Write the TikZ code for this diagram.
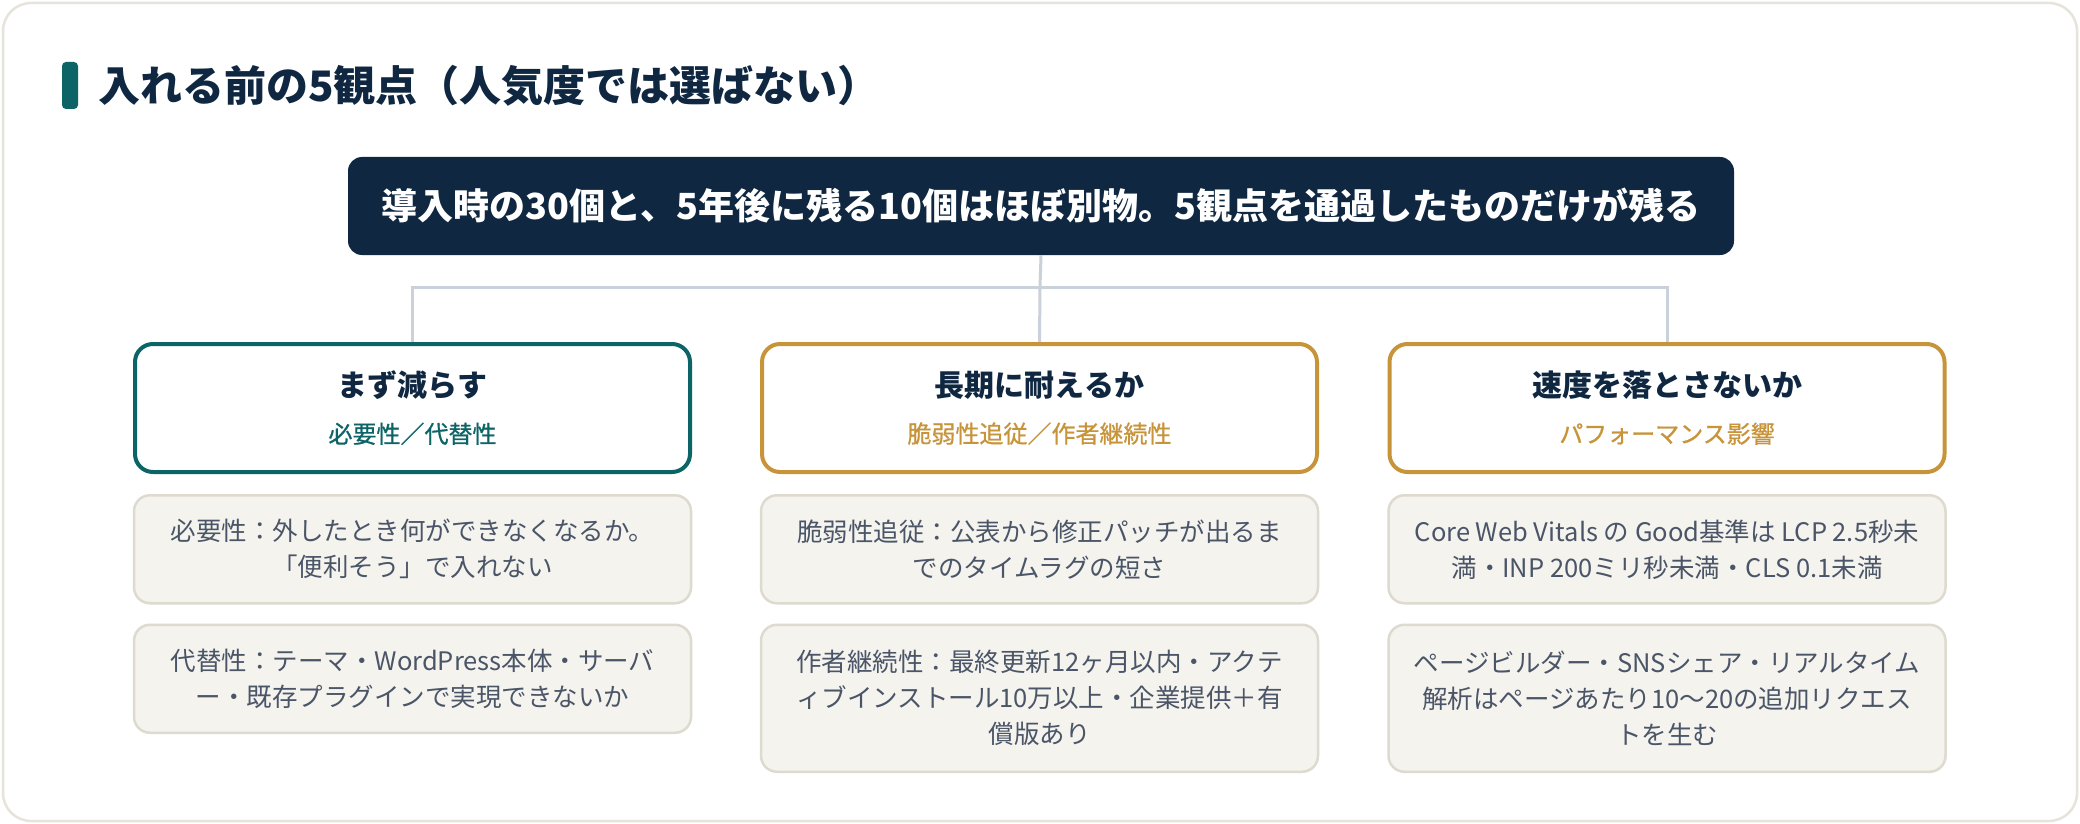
\documentclass[tikz,border=0pt]{standalone}
\usepackage{fontspec}
\setmainfont{Noto Sans CJK JP}
\usetikzlibrary{positioning}
\definecolor{cardline}{HTML}{E5E3DA}
\definecolor{inknavy}{HTML}{0F2740}
\definecolor{pineteal}{HTML}{0D6466}
\definecolor{ochre}{HTML}{C8943A}
\definecolor{paper}{HTML}{F5F3EE}
\definecolor{paperline}{HTML}{DEDACF}
\definecolor{wiregray}{HTML}{CBD1DA}
\definecolor{bodygray}{HTML}{4A5567}
\newcommand\subfont{\fontsize{24}{28}\selectfont\mdseries\addfontfeatures{FakeBold=0.8}}

\begin{document}
\begin{tikzpicture}[
    x=1pt, y=-1pt,
    card/.style={
      rounded corners=28pt, fill=white, draw=cardline, line width=2.5pt,
    },
    leadbox/.style={
      rectangle, rounded corners=14pt,
      minimum width=1386pt, minimum height=98pt,
      fill=inknavy, text=white, inner sep=0pt,
      font=\fontsize{36}{42}\selectfont\bfseries,
    },
    headbox/.style={
      rectangle, rounded corners=18pt,
      minimum width=555pt, minimum height=128pt,
      fill=white, line width=4pt, align=center, inner sep=0pt,
      text=inknavy, font=\fontsize{30}{44}\selectfont\bfseries,
    },
    headA/.style={headbox, draw=pineteal},
    headB/.style={headbox, draw=ochre},
    detail/.style={
      rectangle, rounded corners=16pt,
      minimum width=557pt, minimum height=108pt,
      fill=paper, draw=paperline, line width=2.5pt,
      align=center, inner sep=0pt,
      text=bodygray, font=\fontsize{25.5}{36}\selectfont,
    },
    wire/.style={draw=wiregray, line width=3pt},
  ]
  \useasboundingbox (0,0) rectangle (2080,824);

  % --- card + heading ---
  \draw[card] (3,3) rectangle (2077,821);
  \fill[pineteal, rounded corners=4pt] (62,62) rectangle (78,109);
  \node[anchor=west, inner sep=0pt, text=inknavy,
        font=\fontsize{42}{50}\selectfont\bfseries] (title) at (98,85.5)
    {入れる前の5観点（人気度では選ばない）};

  % ================================================================
  %  LEAD STATEMENT
  % ================================================================
  \node[leadbox] (lead) at (1041,206)
    {導入時の30個と、5年後に残る10個はほぼ別物。5観点を通過したものだけが残る};

  % ================================================================
  %  THREE VIEWPOINTS
  % ================================================================
  \node[headA] (h1) at (412.5,408)
    {まず減らす\\[2pt]{\subfont\color{pineteal}必要性／代替性}};
  \node[headB] (h2) at (1039.5,408)
    {長期に耐えるか\\[2pt]{\subfont\color{ochre}脆弱性追従／作者継続性}};
  \node[headB] (h3) at (1667,408)
    {速度を落とさないか\\[2pt]{\subfont\color{ochre}パフォーマンス影響}};

  % -- tree wires --
  \coordinate (split) at (1040,287);
  \draw[wire] (lead.south) -- (split);
  \draw[wire] (h1.north) |- (split) -| (h3.north);
  \draw[wire] (split) -- (h2.north);

  % ================================================================
  %  DETAILS
  % ================================================================
  \node[detail, below=20pt of h1] (d1a)
    {必要性：外したとき何ができなくなるか。\\「便利そう」で入れない};
  \node[detail, below=19pt of d1a] (d1b)
    {代替性：テーマ・WordPress本体・サーバ\\ー・既存プラグインで実現できないか};

  \node[detail, below=20pt of h2] (d2a)
    {脆弱性追従：公表から修正パッチが出るま\\でのタイムラグの短さ};
  \node[detail, below=19pt of d2a, minimum height=147pt] (d2b)
    {作者継続性：最終更新12ヶ月以内・アクテ\\ィブインストール10万以上・企業提供＋有\\償版あり};

  \node[detail, below=20pt of h3] (d3a)
    {Core Web Vitals の Good基準は LCP 2.5秒未\\満・INP 200ミリ秒未満・CLS 0.1未満};
  \node[detail, below=19pt of d3a, minimum height=147pt] (d3b)
    {ページビルダー・SNSシェア・リアルタイム\\解析はページあたり10〜20の追加リクエス\\トを生む};

\end{tikzpicture}
\end{document}
